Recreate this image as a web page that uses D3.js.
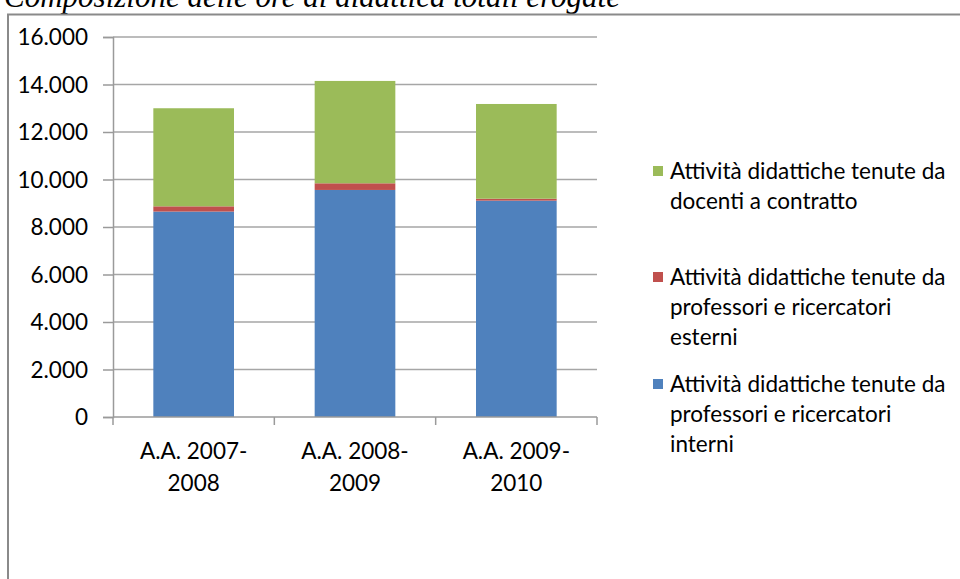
<!DOCTYPE html>
<html><head><meta charset="utf-8">
<script src="https://cdn.jsdelivr.net/npm/d3@7/dist/d3.min.js"></script>
<style>body{margin:0;background:#fff;}svg{display:block;}</style>
</head><body>
<svg id="c" width="960" height="579"></svg>
<script>
const categories = [["A.A. 2007-","2008"],["A.A. 2008-","2009"],["A.A. 2009-","2010"]];
const interni = [8650, 9560, 9110];
const esterni = [220, 280, 80];
const contratto = [4130, 4310, 3990];
const yTicks = [0,2000,4000,6000,8000,10000,12000,14000,16000];
const seriesNames = ["interni","esterni","contratto"];
const colors = {interni:"#4F81BD", esterni:"#C0504D", contratto:"#9BBB59"};
const legendItems = [
  {key:"contratto", lines:["Attività didattiche tenute da","docenti a contratto"]},
  {key:"esterni", lines:["Attività didattiche tenute da","professori e ricercatori","esterni"]},
  {key:"interni", lines:["Attività didattiche tenute da","professori e ricercatori","interni"]}
];
const title = "Composizione delle ore di didattica totali erogate";

const svg = d3.select("#c");
const font = "Lato, 'Open Sans', sans-serif";

// title (partly cut at the top, as in the source)
svg.append("text").attr("x",4).attr("y",7).attr("font-family","'Liberation Serif', 'Times New Roman', serif")
  .attr("font-style","italic").attr("font-size",31).attr("fill","#000").text(title);
// frame
svg.append("path").attr("d","M8,579 V14.5 H960").attr("fill","none").attr("stroke","#8a8a8a").attr("stroke-width",2);

const data = categories.map((c,i)=>({cat:i, interni:interni[i], esterni:esterni[i], contratto:contratto[i]}));
const x = d3.scaleBand().domain(d3.range(categories.length)).range([113,597]).paddingInner(0.5).paddingOuter(0.25);
const y = d3.scaleLinear().domain([0,16000]).range([417,37]);

// gridlines
svg.append("g").selectAll("line").data(yTicks.filter(t=>t>0)).join("line")
  .attr("x1",113).attr("x2",597).attr("y1",d=>y(d)).attr("y2",d=>y(d))
  .attr("stroke","#a6a6a6").attr("stroke-width",1.5);

const stack = d3.stack().keys(seriesNames)(data);
svg.append("g").selectAll("g").data(stack).join("g").attr("fill",d=>colors[d.key])
  .selectAll("rect").data(d=>d).join("rect")
  .attr("x",d=>x(d.data.cat)).attr("width",x.bandwidth())
  .attr("y",d=>y(d[1])).attr("height",d=>y(d[0])-y(d[1]));

// y axis
const yAxis = d3.axisLeft(y).tickValues(yTicks).tickSize(10).tickPadding(15)
  .tickFormat(d=>d3.format(",")(d).replace(/,/g,"."));
const gy = svg.append("g").attr("transform","translate(113,0)").call(yAxis);
gy.select(".domain").attr("stroke","#9a9a9a").attr("stroke-width",1.5);
gy.selectAll(".tick line").attr("stroke","#9a9a9a").attr("stroke-width",1.5);
gy.selectAll(".tick text").attr("font-family",font).attr("font-size",22.5).attr("fill","#000").attr("dy","0.35em");

// x axis
const xTickPos = d3.range(categories.length+1).map(i=>113 + i*(597-113)/categories.length);
svg.append("line").attr("x1",113).attr("x2",597).attr("y1",417).attr("y2",417).attr("stroke","#9a9a9a").attr("stroke-width",1.5);
svg.append("g").selectAll("line").data(xTickPos).join("line")
  .attr("x1",d=>d).attr("x2",d=>d).attr("y1",417).attr("y2",425).attr("stroke","#9a9a9a").attr("stroke-width",1.5);
const xl = svg.append("g").selectAll("text").data(categories).join("text")
  .attr("x",(d,i)=>x(i)+x.bandwidth()/2).attr("y",459)
  .attr("text-anchor","middle").attr("font-family",font).attr("font-size",22.5).attr("fill","#000");
xl.selectAll("tspan").data(d=>d).join("tspan").attr("x",function(){return this.parentNode.getAttribute("x");})
  .attr("dy",(d,i)=>i?32:0).text(d=>d);

// legend
const legendTops = [171, 277, 384];
const lg = svg.append("g");
legendItems.forEach((it,k)=>{
  const cy = legendTops[k];
  lg.append("rect").attr("x",653).attr("y",cy-5).attr("width",10).attr("height",10).attr("fill",colors[it.key]);
  const t = lg.append("text").attr("font-family",font).attr("font-size",22.5).attr("fill","#000");
  it.lines.forEach((l,j)=>t.append("tspan").attr("x",670).attr("y",cy+8+j*30).text(l));
});
</script>
</body></html>
